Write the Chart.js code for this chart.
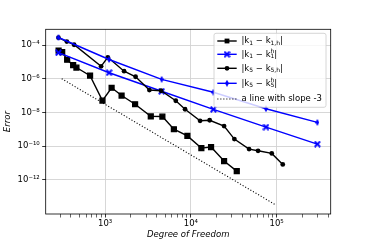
<!DOCTYPE html>
<html><head><meta charset="utf-8">
<script src="https://cdn.jsdelivr.net/npm/chart.js@4.4.0/dist/chart.umd.min.js"></script>
<style>html,body{margin:0;padding:0;background:#fff}</style>
</head><body>
<canvas id="c" width="367" height="245"></canvas>
<script>
// ---- data ----
const dofSq = [287, 316, 361, 424, 463, 668, 931, 1191, 1557, 2237, 3409, 4652, 6336, 9105, 13250, 17190, 24380, 34270];
const errSq = [4.59e-5, 3.84e-5, 1.34e-5, 6.33e-6, 4.62e-6, 1.51e-6, 5.08e-8, 2.92e-7, 1.01e-7, 3.07e-8, 5.87e-9, 5.71e-9, 1.01e-9, 4.09e-10, 7.71e-11, 8.85e-11, 1.31e-11, 3.33e-12];
const dofUni = [286, 1114, 4562, 18280, 75110, 297900];
const errK1h = [3.49e-5, 2.27e-6, 1.81e-7, 1.53e-8, 1.36e-9, 1.33e-10];
const errK5h = [2.79e-4, 1.38e-5, 9.21e-7, 1.58e-7, 1.66e-8, 2.58e-9];
const dofCi = [286, 358, 435, 898, 1075, 1665, 2267, 3283, 4495, 6668, 8556, 12800, 16560, 24380, 32140, 47670, 60700, 87700, 117800];
const errCi = [2.71e-4, 1.61e-4, 1.04e-4, 5.44e-6, 1.86e-5, 2.79e-6, 1.31e-6, 2.13e-7, 1.94e-7, 4.95e-8, 1.55e-8, 3.21e-9, 3.44e-9, 1.56e-9, 2.64e-10, 6.73e-11, 5.33e-11, 3.74e-11, 8.32e-12];
const refX = [312, 98400];
const refY = [1e-6, 3.2e-14];
const seriesLabels = ['|k₁ − k₁,ₕ|', '|k₁ − k₁ʰ|', '|k₅ − k₅,ₕ|', '|k₅ − k₅ʰ|', 'a line with slope -3'];
const xMajor = [1e3, 1e4, 1e5];
const xTickLabels = ['10³', '10⁴', '10⁵'];
const xMinor = [300,400,500,600,700,800,900,2000,3000,4000,5000,6000,7000,8000,9000,20000,30000,40000,50000,60000,70000,80000,90000,200000,300000,400000];
const yMajor = [1e-12, 1e-10, 1e-8, 1e-6, 1e-4];
const yTickLabels = ['10⁻¹²', '10⁻¹⁰', '10⁻⁸', '10⁻⁶', '10⁻⁴'];

const FONT = '"DejaVu Sans", sans-serif';
const BLUE = '#0000ff';

function makeX(color) {
  const s = 7, c = document.createElement('canvas'); c.width = s; c.height = s;
  const g = c.getContext('2d'); g.translate(s/2, s/2); g.rotate(Math.PI/4);
  g.fillStyle = color; const L = 3.9, t = 0.9;
  g.fillRect(-L, -t, 2*L, 2*t); g.fillRect(-t, -L, 2*t, 2*L);
  return c;
}
function makeDiamond(color) {
  const w = 4, h = 7, c = document.createElement('canvas'); c.width = w; c.height = h;
  const g = c.getContext('2d'); g.fillStyle = color;
  g.beginPath(); g.moveTo(w/2, 0); g.lineTo(w, h/2); g.lineTo(w/2, h); g.lineTo(0, h/2); g.closePath(); g.fill();
  return c;
}
const xMark = makeX(BLUE), dMark = makeDiamond(BLUE);
const pts = (xs, ys) => xs.map((x, i) => ({x, y: ys[i]}));

const datasets = [
  {label: seriesLabels[0], data: pts(dofSq, errSq), borderColor: '#000', backgroundColor: '#000', borderWidth: 1.4, pointStyle: 'rect', pointRadius: 3.4, order: 4},
  {label: seriesLabels[1], data: pts(dofUni, errK1h), borderColor: BLUE, backgroundColor: BLUE, borderWidth: 1.4, pointStyle: xMark, pointRadius: 3, order: 3},
  {label: seriesLabels[2], data: pts(dofCi, errCi), borderColor: '#000', backgroundColor: '#000', borderWidth: 1.4, pointStyle: 'circle', pointRadius: 2.4, pointBorderWidth: 0, order: 2},
  {label: seriesLabels[3], data: pts(dofUni, errK5h), borderColor: BLUE, backgroundColor: BLUE, borderWidth: 1.4, pointStyle: dMark, pointRadius: 3, order: 1},
  {label: seriesLabels[4], data: pts(refX, refY), borderColor: '#000', borderWidth: 1.1, borderDash: [1.1, 1.9], pointRadius: 0, order: 0}
];

// legend rendering pieces (sub/superscripts)
const legendParts = [
  [['|k','n'],['1','s'],[' − k','n'],['1,h','s'],['|','n']],
  [['|k','n'],['1','s'],[' − k','n'],[['h','1'],'sp'],['|','n']],
  [['|k','n'],['5','s'],[' − k','n'],['5,h','s'],['|','n']],
  [['|k','n'],['5','s'],[' − k','n'],[['h','5'],'sp'],['|','n']],
  [[seriesLabels[4],'n']]
];

const framePlugin = {
  id: 'frame',
  afterDraw(chart) {
    const {ctx, chartArea: a} = chart;
    ctx.save();
    ctx.strokeStyle = '#000'; ctx.lineWidth = 0.8;
    ctx.strokeRect(a.left, a.top, a.right - a.left, a.bottom - a.top);
    // legend box
    const bx = 214, by = 33.3, bw = 112, bh = 74, r = 2;
    ctx.beginPath();
    ctx.moveTo(bx + r, by); ctx.lineTo(bx + bw - r, by); ctx.arcTo(bx + bw, by, bx + bw, by + r, r);
    ctx.lineTo(bx + bw, by + bh - r); ctx.arcTo(bx + bw, by + bh, bx + bw - r, by + bh, r);
    ctx.lineTo(bx + r, by + bh); ctx.arcTo(bx, by + bh, bx, by + bh - r, r);
    ctx.lineTo(bx, by + r); ctx.arcTo(bx, by, bx + r, by, r); ctx.closePath();
    ctx.fillStyle = 'rgba(255,255,255,0.8)'; ctx.fill();
    ctx.strokeStyle = '#cccccc'; ctx.lineWidth = 0.8; ctx.stroke();
    const rows = [41, 54.3, 68.3, 83.3, 99];
    const hx1 = 217.3, hx2 = 236.7, hm = 227, tx = 241.5;
    datasets.forEach((ds, i) => {
      const y = rows[i];
      ctx.save();
      ctx.strokeStyle = ds.borderColor; ctx.lineWidth = ds.borderWidth;
      if (ds.borderDash) ctx.setLineDash(ds.borderDash);
      ctx.beginPath(); ctx.moveTo(hx1, y); ctx.lineTo(hx2, y); ctx.stroke();
      ctx.setLineDash([]);
      if (ds.pointRadius > 0) {
        ctx.fillStyle = ds.backgroundColor;
        if (typeof ds.pointStyle === 'string') {
          ctx.beginPath();
          if (ds.pointStyle === 'rect') { const s = Math.SQRT1_2 * ds.pointRadius; ctx.rect(hm - s, y - s, 2*s, 2*s); }
          else { ctx.arc(hm, y, ds.pointRadius, 0, Math.PI*2); }
          ctx.fill();
        } else {
          Chart.helpers.drawPoint(ctx, {pointStyle: ds.pointStyle, radius: ds.pointRadius, borderWidth: 0, rotation: 0}, hm, y);
        }
      }
      ctx.restore();
      // text
      let x = tx;
      ctx.fillStyle = '#000'; ctx.textBaseline = 'middle'; ctx.textAlign = 'left';
      legendParts[i].forEach(([t, d]) => {
        if (d === 'n') {
          ctx.font = '8.5px ' + FONT; ctx.fillText(t, x, y); x += ctx.measureText(t).width;
        } else if (d === 's') {
          ctx.font = '6px ' + FONT; ctx.fillText(t, x, y + 2.4); x += ctx.measureText(t).width;
        } else {
          ctx.font = '6px ' + FONT;
          ctx.fillText(t[0], x, y - 3.2); const w1 = ctx.measureText(t[0]).width;
          ctx.fillText(t[1], x, y + 2.6); const w2 = ctx.measureText(t[1]).width;
          x += Math.max(w1, w2);
        }
      });
    });
    ctx.restore();
  }
};

const tickFont = {family: FONT, size: 8.5};
new Chart(document.getElementById('c'), {
  type: 'line',
  data: {datasets},
  options: {
    responsive: false, animation: false,
    layout: {padding: {left: 0, right: 36.3, top: 29.3, bottom: 0}},
    plugins: {legend: {display: false}, tooltip: {enabled: false}},
    elements: {line: {tension: 0}},
    scales: {
      x: {
        type: 'logarithmic', min: 203, max: 426600, bounds: 'data',
        afterBuildTicks: s => { s.ticks = xMajor.concat(xMinor).sort((a, b) => a - b).map(v => ({value: v, major: xMajor.includes(v)})); },
        afterFit: s => { s.height = 31; },
        ticks: {autoSkip: false, maxRotation: 0, minRotation: 0, padding: 1, color: '#000', font: tickFont,
          callback: v => { const k = xMajor.indexOf(v); return k >= 0 ? xTickLabels[k] : ''; }},
        grid: {color: c => (c.tick && xMajor.includes(c.tick.value)) ? '#d3d3d3' : 'rgba(0,0,0,0)', lineWidth: 0.9,
          tickColor: '#000', tickLength: 3.5, tickWidth: c => (c.tick && xMajor.includes(c.tick.value)) ? 0.8 : 0.6},
        border: {display: false},
        title: {display: true, text: 'Degree of Freedom', color: '#000', font: {family: FONT, size: 8.5, style: 'italic'}, padding: {top: 0, bottom: 5}}
      },
      y: {
        type: 'logarithmic', min: 9.5e-15, max: 8.55e-4, bounds: 'data',
        afterBuildTicks: s => { s.ticks = yMajor.map(v => ({value: v, major: true})); },
        afterFit: s => { s.width = 45.7; },
        ticks: {autoSkip: false, padding: 2.5, color: '#000', font: tickFont,
          callback: v => { const k = yMajor.indexOf(v); return k >= 0 ? yTickLabels[k] : ''; }},
        grid: {color: '#d3d3d3', lineWidth: 0.9, tickColor: '#000', tickLength: 3.5, tickWidth: 0.8},
        border: {display: false},
        title: {display: true, text: 'Error', color: '#000', font: {family: FONT, size: 8.5, style: 'italic'}, padding: {top: 3, bottom: 0}}
      }
    }
  },
  plugins: [framePlugin]
});
</script>
</body></html>
